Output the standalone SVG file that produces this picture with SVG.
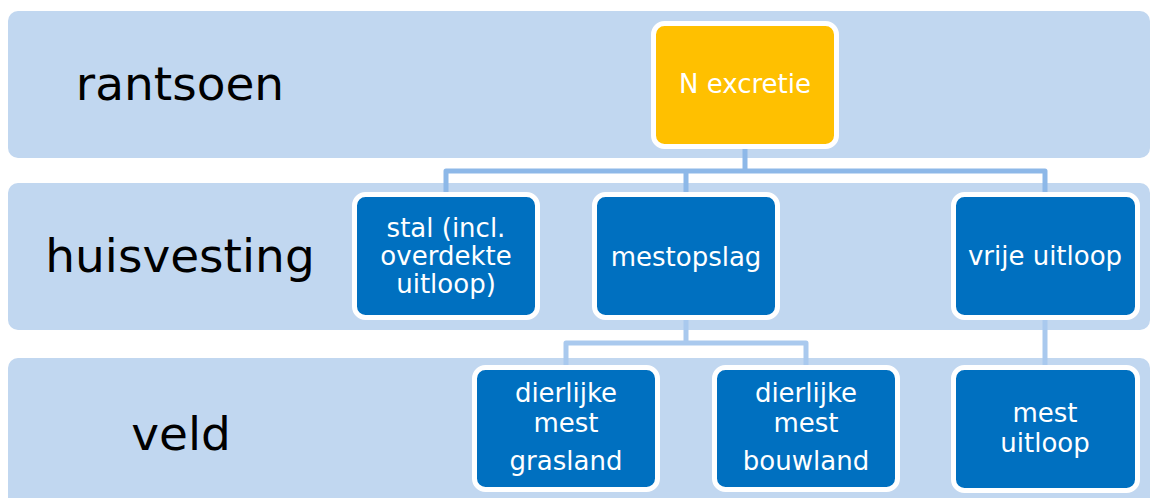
<svg xmlns="http://www.w3.org/2000/svg" width="1151" height="498" viewBox="0 0 1151 498">
<style>
.band{fill:#C1D7F0}
.lbl{font-family:"DejaVu Sans",sans-serif;font-size:47px;fill:#000;text-anchor:middle}
.node{fill:#0070C0;stroke:#fff;stroke-width:5}
.top{fill:#FFC000;stroke:#fff;stroke-width:5}
.nt{font-family:"DejaVu Sans",sans-serif;font-size:26px;fill:#fff;text-anchor:middle}
.c1{fill:none;stroke:#8DB8E8;stroke-width:5;stroke-linejoin:round}
.c2{fill:none;stroke:#A9C9EE;stroke-width:5;stroke-linejoin:round}
</style>
<rect width="1151" height="498" fill="#fff"/>
<g id="bands">
<rect class="band" x="8" y="11" width="1142" height="147" rx="10"/>
<rect class="band" x="8" y="183" width="1142" height="147" rx="10"/>
<rect class="band" x="8" y="358" width="1142" height="152" rx="10"/>
<text class="lbl" x="180" y="100">rantsoen</text>
<text class="lbl" x="180" y="272">huisvesting</text>
<text class="lbl" x="181" y="450">veld</text>
</g>
<g id="connectors">
<path class="c1" d="M745 149 V171 H1045 V192 M745 171 H446 V192 M686 171 V192"/>
<path class="c2" d="M686 320 V343 H566 V365 M686 343 H806 V365 M1045 320 V365"/>
</g>
<g id="n_excretie">
<rect class="top" x="653.5" y="23.5" width="183" height="123" rx="11"/>
<text class="nt" x="745" y="93">N excretie</text>
</g>
<g id="stal">
<rect class="node" x="354.5" y="194.5" width="183" height="123" rx="11"/>
<text class="nt" x="446" y="237">stal (incl.</text>
<text class="nt" x="446" y="265">overdekte</text>
<text class="nt" x="446" y="293">uitloop)</text>
</g>
<g id="mestopslag">
<rect class="node" x="594.5" y="194.5" width="183" height="123" rx="11"/>
<text class="nt" x="686" y="266">mestopslag</text>
</g>
<g id="vrije_uitloop">
<rect class="node" x="953.5" y="194.5" width="184" height="123" rx="11"/>
<text class="nt" x="1045" y="265">vrije uitloop</text>
</g>
<g id="grasland">
<rect class="node" x="474.5" y="367.5" width="183" height="122" rx="11"/>
<text class="nt" x="566" y="402">dierlijke</text>
<text class="nt" x="566" y="432">mest</text>
<text class="nt" x="566" y="470">grasland</text>
</g>
<g id="bouwland">
<rect class="node" x="714.5" y="367.5" width="183" height="122" rx="11"/>
<text class="nt" x="806" y="402">dierlijke</text>
<text class="nt" x="806" y="432">mest</text>
<text class="nt" x="806" y="470">bouwland</text>
</g>
<g id="mest_uitloop">
<rect class="node" x="953.5" y="367.5" width="184" height="123" rx="11"/>
<text class="nt" x="1045" y="422">mest</text>
<text class="nt" x="1045" y="452">uitloop</text>
</g>
</svg>
